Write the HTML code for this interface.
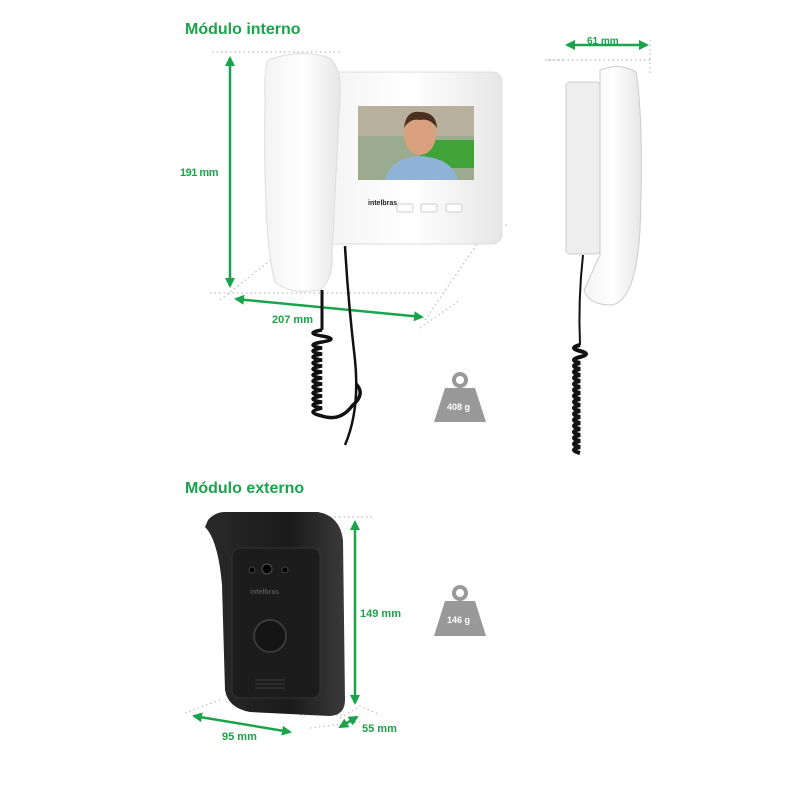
<!DOCTYPE html>
<html><head><meta charset="utf-8"><style>
html,body{margin:0;padding:0;background:#fff}
svg{display:block}
text{font-family:"Liberation Sans",sans-serif;font-weight:bold}
</style></head><body>
<svg width="800" height="800" viewBox="0 0 800 800" xmlns="http://www.w3.org/2000/svg">
<defs>
<linearGradient id="wh" x1="0" x2="1"><stop offset="0" stop-color="#f3f3f3"/><stop offset=".5" stop-color="#fff"/><stop offset="1" stop-color="#e6e6e6"/></linearGradient>
<linearGradient id="bk" x1="0" x2="1"><stop offset="0" stop-color="#2a2a2a"/><stop offset=".6" stop-color="#1a1a1a"/><stop offset="1" stop-color="#3a3a3a"/></linearGradient>
<marker id="ar" viewBox="0 0 10 10" refX="8" refY="5" markerWidth="4" markerHeight="4" orient="auto-start-reverse"><path d="M0 0L10 5L0 10Z" fill="#1aa34a"/></marker>
</defs>
<g fill="none" stroke="#bbb" stroke-width="1.2" stroke-dasharray="1.5 3">
<path d="M212 52H340M210 293H440M220 300L290 245M425 320L490 225H510M420 328L460 300M563 60L545 60M650 40V75M545 60H650"/>
<path d="M330 517H375M185 713L220 700M300 715H345M340 718L360 706L380 715M310 728L360 722"/>
</g>
<text x="185" y="34" font-size="16" fill="#1aa34a">Módulo interno</text>
<text x="185" y="493" font-size="16" fill="#1aa34a">Módulo externo</text>
<g stroke="#1aa34a" stroke-width="2.5" fill="none" marker-start="url(#ar)" marker-end="url(#ar)">
<line x1="230" y1="58" x2="230" y2="286"/>
<line x1="236" y1="299" x2="422" y2="317"/>
<line x1="567" y1="45" x2="647" y2="45"/>
<line x1="355" y1="522" x2="355" y2="703"/>
<line x1="194" y1="716" x2="290" y2="732"/>
<line x1="340" y1="727" x2="357" y2="717"/>
</g>
<g font-size="11" fill="#1aa34a">
<text x="180" y="176" letter-spacing="-.5">191 mm</text>
<text x="272" y="323">207 mm</text>
<text x="587" y="44" font-size="10">61 mm</text>
<text x="360" y="617">149 mm</text>
<text x="222" y="740">95 mm</text>
<text x="362" y="732">55 mm</text>
</g>
<!-- body -->
<rect x="322" y="72" width="180" height="172" rx="10" fill="url(#wh)" stroke="#ddd"/>
<rect x="358" y="106" width="116" height="74" fill="#9bab8f"/>
<rect x="358" y="106" width="116" height="30" fill="#b8b09c"/>
<rect x="420" y="140" width="54" height="28" fill="#3fa33a"/>
<path d="M385 180Q390 158 420 156Q452 158 458 180Z" fill="#8fb3d6"/>
<ellipse cx="420" cy="135" rx="16" ry="20" fill="#d9a07e"/>
<path d="M404 128Q406 110 420 112Q436 112 437 128Q430 118 420 120Q410 118 404 128Z" fill="#4a3020"/>
<text x="368" y="205" font-size="7" fill="#222">intelbras</text>
<rect x="397" y="204" width="16" height="8" rx="2" fill="#fff" stroke="#ccc"/>
<rect x="421" y="204" width="16" height="8" rx="2" fill="#fff" stroke="#ccc"/>
<rect x="446" y="204" width="16" height="8" rx="2" fill="#fff" stroke="#ccc"/>
<!-- handset -->
<path d="M268 60Q300 48 330 58Q342 70 340 95L332 255Q334 278 320 290Q290 295 275 282Q263 240 265 100Q264 70 268 60Z" fill="url(#wh)" stroke="#ddd"/>
<!-- cords -->
<path d="M345 246Q348 300 355 360Q360 410 345 445" stroke="#111" stroke-width="2.5" fill="none"/>
<path d="M322 290V330" stroke="#111" stroke-width="3" fill="none"/>
<path d="M322 330q-18 3 0 6q18 3 0 6q-18 3 0 6q-18 3 0 6q-18 3 0 6q-18 3 0 6q-18 3 0 6q-18 3 0 6q-18 3 0 6q-18 3 0 6q-18 3 0 6q-18 3 0 6q-18 3 0 6q-18 4 0 8q18 6 30 -10q14 -12 4 -22" stroke="#111" stroke-width="3.5" fill="none"/>
<!-- side view -->
<rect x="566" y="82" width="34" height="172" rx="4" fill="#eee" stroke="#ccc"/>
<path d="M600 70Q620 62 636 72Q644 120 640 230Q636 300 612 305Q588 305 584 290L600 255Z" fill="url(#wh)" stroke="#ccc"/>
<path d="M583 255Q578 300 580 345" stroke="#111" stroke-width="2" fill="none"/>
<path d="M580 345q-12 3 0 6q12 3 0 6q-12 3 0 6q-12 3 0 6q-12 3 0 6q-12 3 0 6q-12 3 0 6q-12 3 0 6q-12 3 0 6q-12 3 0 6q-12 3 0 6q-12 3 0 6q-12 3 0 6q-12 3 0 6q-12 3 0 6q-12 3 0 6q-12 3 0 6q-12 3 0 6" stroke="#111" stroke-width="4" fill="none"/>
<!-- external module -->
<path d="M208 520Q215 512 225 512L318 512Q340 516 343 540L345 700Q345 715 330 716L250 712Q228 708 225 690L222 585Q218 540 205 527Z" fill="url(#bk)"/>
<rect x="232" y="548" width="88" height="150" rx="8" fill="#1c1c1c" stroke="#333"/>
<circle cx="252" cy="570" r="3" fill="#000" stroke="#444"/>
<circle cx="267" cy="569" r="5" fill="#000" stroke="#555"/>
<circle cx="285" cy="570" r="3" fill="#000" stroke="#444"/>
<text x="250" y="594" font-size="7" fill="#555">intelbras</text>
<circle cx="270" cy="636" r="16" fill="#151515" stroke="#3a3a3a" stroke-width="2"/>
<g stroke="#3a3a3a"><line x1="255" y1="680" x2="285" y2="680"/><line x1="255" y1="684" x2="285" y2="684"/><line x1="255" y1="688" x2="285" y2="688"/></g>
<!-- weights -->
<g fill="#999">
<circle cx="460" cy="380" r="8"/><circle cx="460" cy="380" r="4" fill="#fff"/>
<path d="M445 388H475L486 422H434Z"/>
<circle cx="460" cy="593" r="8"/><circle cx="460" cy="593" r="4" fill="#fff"/>
<path d="M445 601H475L486 636H434Z"/>
</g>
<text x="447" y="410" font-size="9" fill="#fff">408 g</text>
<text x="447" y="623" font-size="9" fill="#fff">146 g</text>
</svg>
</body></html>
